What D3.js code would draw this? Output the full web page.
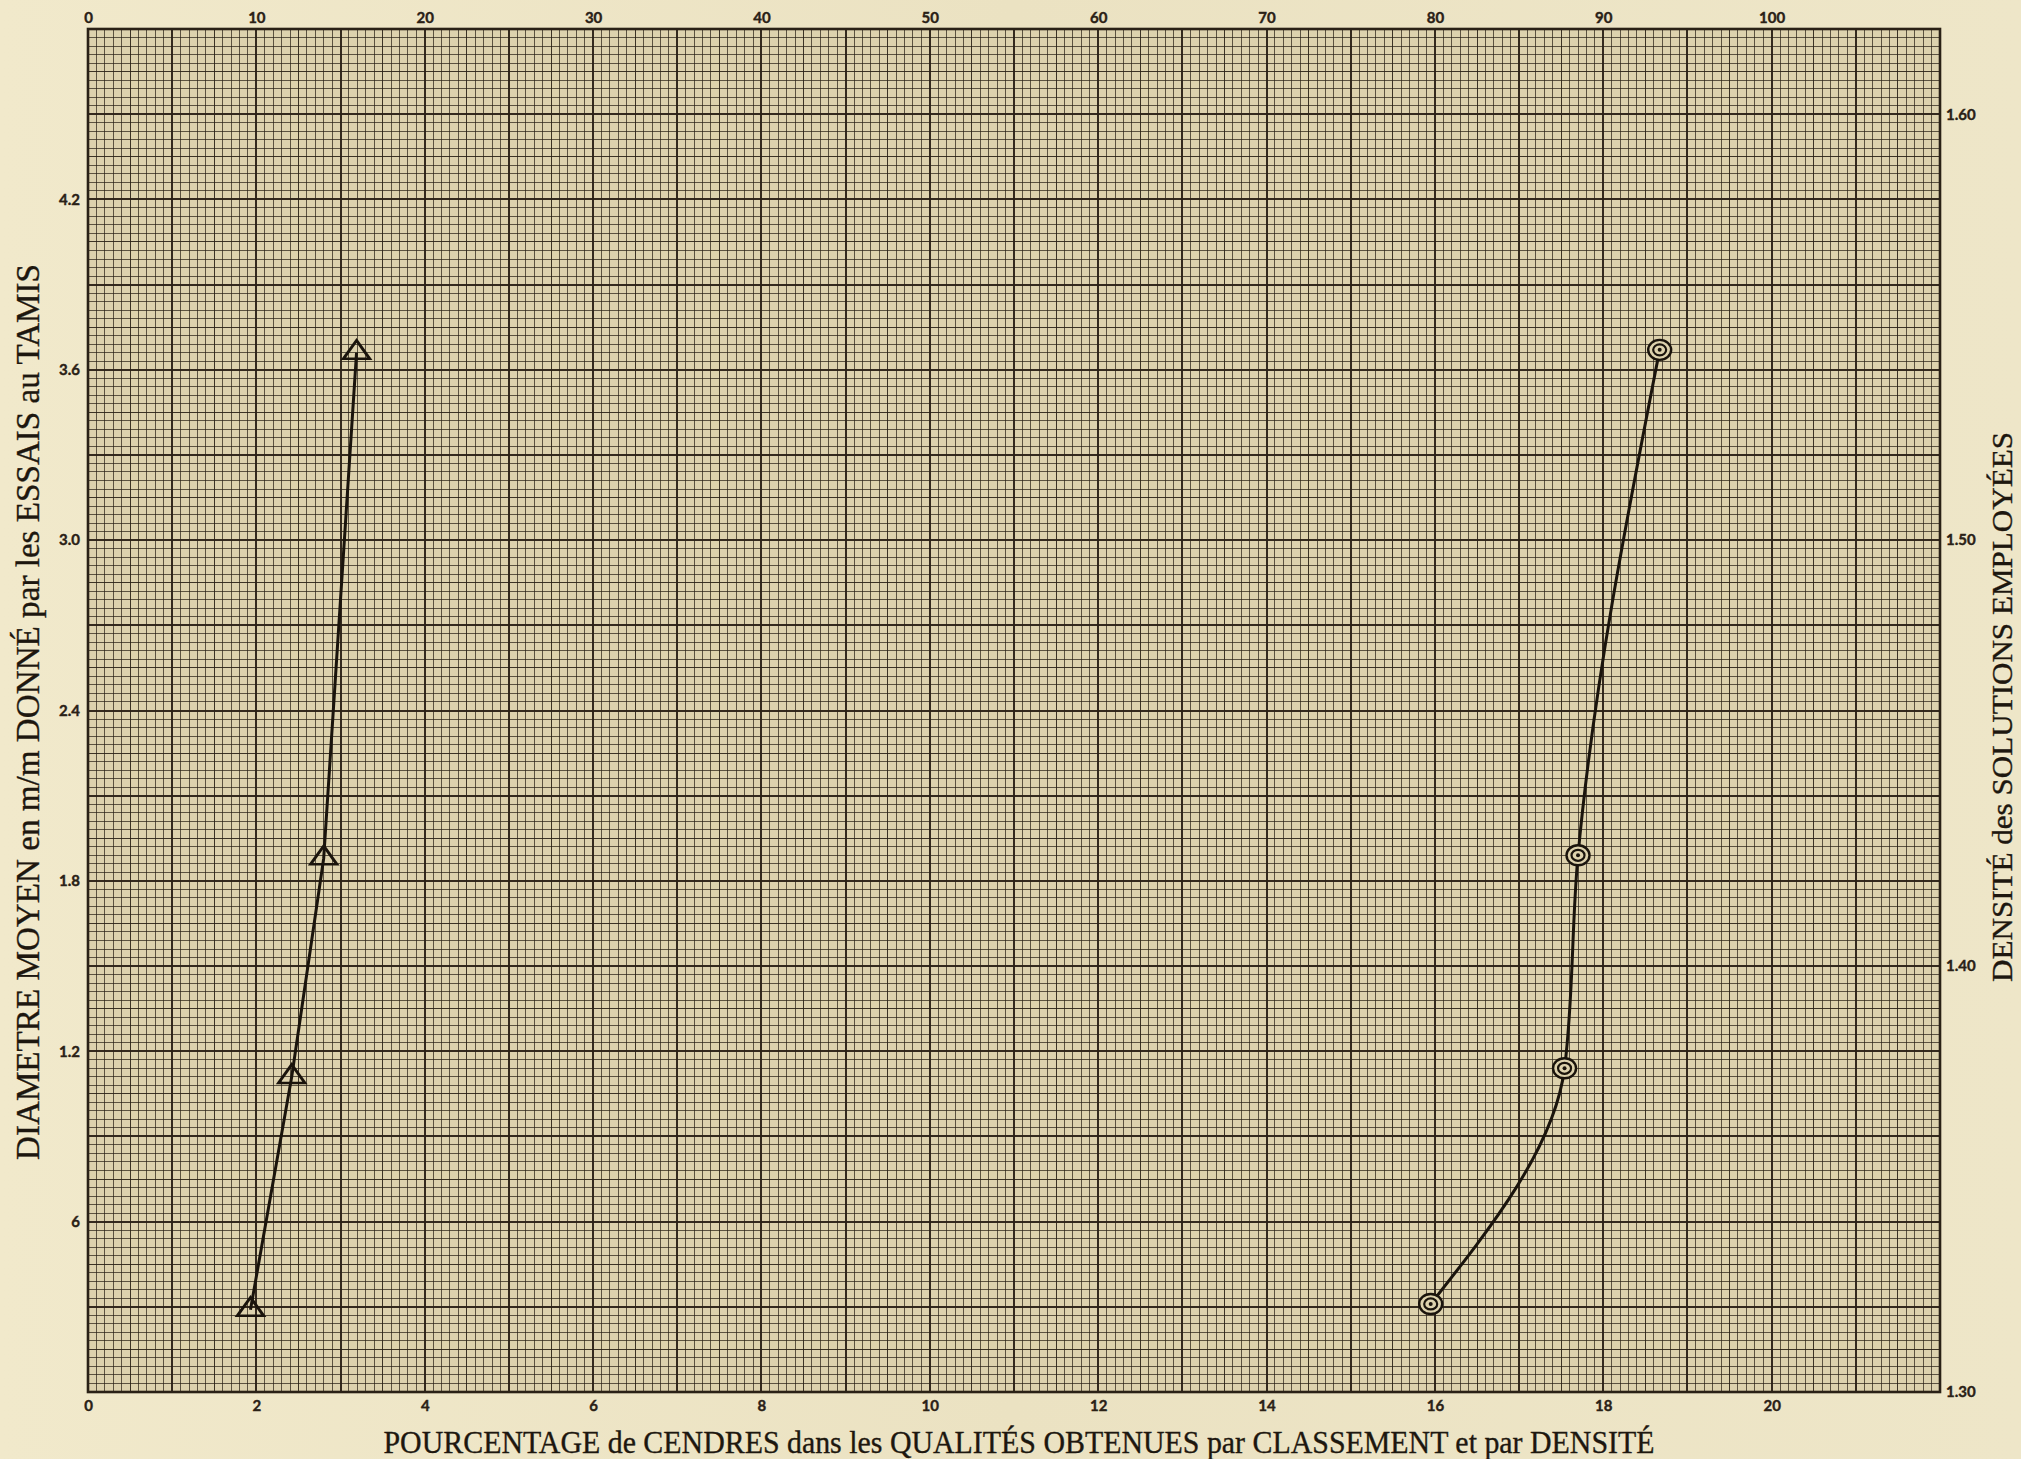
<!DOCTYPE html>
<html lang="fr">
<head>
<meta charset="utf-8">
<title>Diamètre moyen et pourcentage de cendres</title>
<script src="https://cdn.jsdelivr.net/npm/d3@7"></script>
<style>
  html, body { margin: 0; padding: 0; background: #ece3c4; }
  svg { display: block; }
</style>
</head>
<body>
<svg id="chart" width="2021" height="1459"></svg>
<script>
// Séries : pourcentage de cendres (axe bas) et diamètre moyen (axe gauche)
const cendresClassement = [1.93, 2.42, 2.80, 3.19];
const diametreClassement = [0.29, 1.11, 1.88, 3.66];

const cendresDensite = [15.95, 17.54, 17.70, 18.67];
const diametreDensite = [0.31, 1.14, 1.89, 3.67];

// Graduations
const ticksHaut = [0, 10, 20, 30, 40, 50, 60, 70, 80, 90, 100];
const ticksBas = [0, 2, 4, 6, 8, 10, 12, 14, 16, 18, 20];
const ticksGauche = [0.6, 1.2, 1.8, 2.4, 3.0, 3.6, 4.2];
const labelsGauche = ["6", "1.2", "1.8", "2.4", "3.0", "3.6", "4.2"];
const ticksDroite = [1.30, 1.40, 1.50, 1.60];
const labelsDroite = ["1.30", "1.40", "1.50", "1.60"];

const titreBas = "POURCENTAGE de CENDRES dans les QUALITÉS OBTENUES par CLASSEMENT et par DENSITÉ";
const titreGauche = "DIAMETRE MOYEN en m/m DONNÉ par les ESSAIS au TAMIS";
const titreDroite = "DENSITÉ des SOLUTIONS EMPLOYÉES";

const W = 2021, H = 1459;
const L = 88, R = 1940, T = 29, B = 1392;

const svg = d3.select("#chart");
const ink = "#2a2116";

// papier
const defs = svg.append("defs");
const grad = defs.append("linearGradient").attr("id", "papier")
  .attr("x1", 0).attr("x2", 1).attr("y1", 0).attr("y2", 0);
grad.append("stop").attr("offset", "0%").attr("stop-color", "#f1e9cb");
grad.append("stop").attr("offset", "50%").attr("stop-color", "#ebe2c2");
grad.append("stop").attr("offset", "100%").attr("stop-color", "#eee6c8");
svg.append("rect").attr("width", W).attr("height", H).attr("fill", "url(#papier)");

// échelles
const x = d3.scaleLinear().domain([0, 22]).range([L, R]);
const xHaut = d3.scaleLinear().domain([0, 110]).range([L, R]);
const y = d3.scaleLinear().domain([0, 4.8]).range([B, T]);
const yDroite = d3.scaleLinear().domain([1.30, 1.62]).range([B, T]);

// fond du quadrillage
svg.append("rect")
  .attr("x", L).attr("y", T).attr("width", R - L).attr("height", B - T)
  .attr("fill", "#ddd2ad");

// quadrillage millimétré : trait fin, demi-unité, unité
const grille = svg.append("g").attr("stroke", ink);
const largeur = i => i % 10 === 0 ? 2 : 1;
const opacite = i => i % 10 === 0 ? 0.95 : (i % 5 === 0 ? 0.9 : 0.72);
// alignement sur les pixels : traits de 1 px au demi-pixel, traits de 2 px sur le pixel
const cale = (v, i) => i % 10 === 0 ? Math.round(v) : Math.floor(v) + 0.5;

const vx = d3.range(0, 221);
grille.selectAll("line.v").data(vx).join("line")
  .attr("class", "v")
  .attr("x1", i => cale(x(i / 10), i)).attr("x2", i => cale(x(i / 10), i))
  .attr("y1", T).attr("y2", B)
  .attr("stroke-width", largeur).attr("stroke-opacity", opacite);

const hy = d3.range(0, 161);
grille.selectAll("line.h").data(hy).join("line")
  .attr("class", "h")
  .attr("y1", i => cale(y(i * 0.03), i)).attr("y2", i => cale(y(i * 0.03), i))
  .attr("x1", L).attr("x2", R)
  .attr("stroke-width", largeur).attr("stroke-opacity", opacite);

svg.append("rect")
  .attr("x", L).attr("y", T).attr("width", R - L).attr("height", B - T)
  .attr("fill", "none").attr("stroke", ink).attr("stroke-width", 2.6);

// axes
const tickFont = "Lato, 'Liberation Sans', sans-serif";
function styleAxe(g) {
  g.select(".domain").remove();
  g.selectAll(".tick line").remove();
  g.selectAll(".tick text")
    .attr("fill", ink)
    .attr("stroke", ink).attr("stroke-width", 0.4)
    .attr("font-family", tickFont)
    .attr("font-weight", 700)
    .attr("font-size", 15);
}

svg.append("g")
  .attr("transform", `translate(0,${T})`)
  .call(d3.axisTop(xHaut).tickValues(ticksHaut).tickSize(0).tickPadding(6).tickFormat(d3.format("d")))
  .call(styleAxe);

svg.append("g")
  .attr("transform", `translate(0,${B})`)
  .call(d3.axisBottom(x).tickValues(ticksBas).tickSize(0).tickPadding(8).tickFormat(d3.format("d")))
  .call(styleAxe);

svg.append("g")
  .attr("transform", `translate(${L},0)`)
  .call(d3.axisLeft(y).tickValues(ticksGauche).tickSize(0).tickPadding(8)
    .tickFormat((d, i) => labelsGauche[i]))
  .call(styleAxe);

svg.append("g")
  .attr("transform", `translate(${R},0)`)
  .call(d3.axisRight(yDroite).tickValues(ticksDroite).tickSize(0).tickPadding(6)
    .tickFormat((d, i) => labelsDroite[i]))
  .call(styleAxe);

// titres
const serif = "'Liberation Serif', 'DejaVu Serif', serif";
function titre(sel) {
  sel.attr("text-anchor", "middle")
    .attr("font-family", serif)
    .attr("fill", "#1d170f")
    .attr("stroke", "#1d170f").attr("stroke-width", 0.35)
    .attr("lengthAdjust", "spacingAndGlyphs");
}
svg.append("text")
  .attr("x", 1019).attr("y", 1453)
  .attr("font-size", 32).attr("textLength", 1271)
  .call(titre)
  .text(titreBas);

svg.append("text")
  .attr("transform", "translate(39,712) rotate(-90)")
  .attr("font-size", 33).attr("textLength", 896)
  .call(titre)
  .text(titreGauche);

svg.append("text")
  .attr("transform", "translate(2012,707) rotate(-90)")
  .attr("font-size", 30).attr("textLength", 550)
  .call(titre)
  .text(titreDroite);

// courbes
const classement = cendresClassement.map((c, i) => ({ c, d: diametreClassement[i] }));
const densite = cendresDensite.map((c, i) => ({ c, d: diametreDensite[i] }));

svg.append("path")
  .datum(classement)
  .attr("fill", "none").attr("stroke", "#1a140c").attr("stroke-width", 3)
  .attr("stroke-linejoin", "round")
  .attr("d", d3.line().x(p => x(p.c)).y(p => y(p.d)).curve(d3.curveLinear));

svg.append("path")
  .datum(densite)
  .attr("fill", "none").attr("stroke", "#1a140c").attr("stroke-width", 3)
  .attr("d", d3.line().x(p => x(p.c)).y(p => y(p.d)).curve(d3.curveMonotoneY));

// marqueurs : triangles (classement)
const tri = d3.symbol().type(d3.symbolTriangle).size(240);
svg.append("g").selectAll("path").data(classement).join("path")
  .attr("transform", p => `translate(${x(p.c)},${y(p.d)}) scale(1.12,0.9)`)
  .attr("d", tri)
  .attr("fill", "none").attr("stroke", "#1a140c").attr("stroke-width", 2.8);

// marqueurs : cercles concentriques (densité)
const cercles = svg.append("g").selectAll("g").data(densite).join("g")
  .attr("transform", p => `translate(${x(p.c)},${y(p.d)})`);
cercles.append("ellipse").attr("rx", 11.5).attr("ry", 10)
  .attr("fill", "#ddd2ad").attr("stroke", "#1a140c").attr("stroke-width", 2.4);
cercles.append("ellipse").attr("rx", 6.5).attr("ry", 5.5)
  .attr("fill", "none").attr("stroke", "#1a140c").attr("stroke-width", 2.2);
cercles.append("circle").attr("r", 2).attr("fill", "#1a140c");
</script>
</body>
</html>
